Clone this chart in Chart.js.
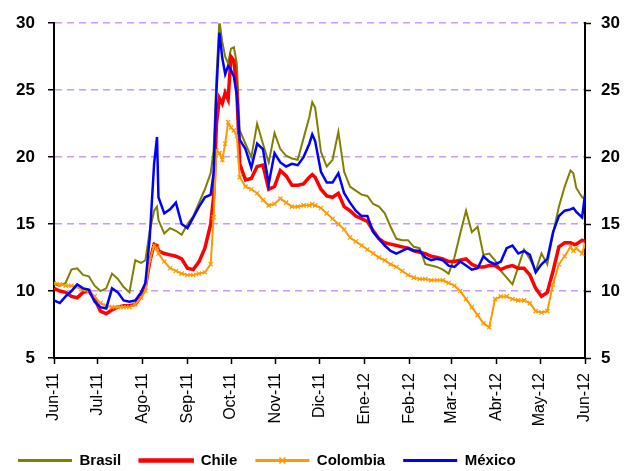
<!DOCTYPE html>
<html>
<head>
<meta charset="utf-8">
<script src="https://cdn.jsdelivr.net/npm/chart.js@4.4.1/dist/chart.umd.min.js"></script>
<style>
  body { margin: 0; background: #fff; }
  #wrap { width: 624px; height: 471px; }
</style>
</head>
<body>
<div id="wrap"><canvas id="chart" width="624" height="471"></canvas></div>
<script>
// days counted from 1-Jun-2011
var days = [0,4,8,12,16,20,24,28,32,36,40,44,48,52,56,60,63,66,69,71,72,76,80,84,88,92,96,100,104,108,
  110,112,114,116,118,120,122,124,126,128,132,136,140,144,148,152,156,160,164,168,172,176,178,180,
  184,188,192,196,200,204,208,212,216,220,224,228,232,236,240,244,248,252,256,260,264,268,272,276,
  280,284,288,292,296,300,304,308,312,316,320,324,328,332,336,340,344,348,352,356,358,360,364,366];

var brasil = [10.5,10.4,10.6,11.6,11.7,11.2,11.1,10.4,10.0,10.2,11.3,10.9,10.3,9.9,12.3,12.1,12.3,14.5,16.0,16.3,15.3,14.3,14.7,14.5,14.2,15.0,15.6,16.6,17.6,18.8,
  20.5,26.0,30.2,28.6,27.5,27.0,28.1,28.2,27.0,22.0,21.0,20.0,22.5,21.0,19.6,21.8,20.6,20.1,19.9,19.8,21.4,23.0,24.1,23.7,
  20.4,19.3,19.8,21.9,18.9,17.8,17.5,17.2,17.1,16.5,16.3,15.8,14.8,13.9,13.8,13.8,13.3,13.2,12.0,11.9,11.8,11.6,11.3,12.5,
  14.3,16.0,14.4,14.8,12.7,12.8,12.3,11.5,11.0,10.5,11.8,13.1,12.4,11.5,12.8,12.0,14.3,16.3,17.8,19.0,18.8,17.7,17.0,16.9];

var chile = [10.2,10.0,9.9,9.6,9.5,9.9,10.0,9.4,8.5,8.3,8.6,8.8,8.9,8.9,9.0,9.6,10.3,12.2,13.5,13.4,13.0,12.8,12.7,12.6,12.4,11.7,11.6,12.2,13.2,15.0,
  17.0,22.5,24.4,24.0,24.8,24.3,27.5,27.2,25.0,19.5,18.3,18.4,19.3,19.4,17.6,17.8,19.0,18.6,17.9,17.9,18.0,18.5,18.7,18.5,
  17.6,17.1,17.0,17.3,16.3,16.0,15.6,15.4,15.2,14.5,13.9,13.6,13.5,13.4,13.3,13.2,13.0,12.9,12.8,12.6,12.5,12.4,12.2,12.2,
  12.3,12.4,12.0,11.8,11.8,11.9,11.9,11.6,11.8,11.9,11.7,11.7,11.2,10.2,9.6,9.9,11.5,13.3,13.6,13.6,13.5,13.5,13.8,13.7];

var colombia = [10.6,10.5,10.4,10.4,10.3,10.1,10.0,9.6,9.1,8.9,8.8,8.8,8.8,8.8,9.0,9.5,10.0,12.3,13.4,13.2,12.8,12.2,11.7,11.5,11.3,11.2,11.2,11.3,11.4,12.0,
  15.5,20.5,20.3,19.8,21.0,22.6,22.2,22.0,21.6,18.5,17.8,17.6,17.3,16.8,16.4,16.5,16.9,16.6,16.3,16.3,16.4,16.4,16.5,16.4,
  16.2,15.8,15.4,15.0,14.6,14.0,13.7,13.4,13.1,12.8,12.5,12.3,12.0,11.8,11.5,11.2,11.0,10.9,10.9,10.8,10.8,10.8,10.6,10.4,
  10.0,9.4,8.8,8.2,7.6,7.3,9.4,9.6,9.6,9.4,9.3,9.3,9.1,8.5,8.4,8.5,10.5,12.0,12.6,13.3,13.0,13.2,12.8,13.5];

var mexico = [9.3,9.1,9.6,10.0,10.5,10.2,10.1,9.2,8.8,8.7,10.2,9.9,9.3,9.2,9.3,9.9,10.6,14.0,19.5,21.5,17.0,15.8,16.1,16.6,15.0,14.7,15.5,16.3,17.0,17.2,
  18.8,25.0,29.3,27.4,26.2,26.8,26.5,26.0,24.6,21.3,20.6,19.2,21.0,20.6,18.0,20.3,19.6,19.3,19.5,19.4,20.0,21.0,21.7,21.2,
  18.9,18.1,18.1,18.8,17.3,16.6,16.0,15.6,15.6,14.4,13.9,13.4,13.0,12.8,13.0,13.2,13.0,13.0,12.5,12.3,12.4,12.3,11.9,11.8,
  12.2,11.9,11.6,11.7,12.6,12.2,12.0,12.2,13.2,13.4,12.8,13.0,12.7,11.4,12.0,12.4,14.4,15.6,16.0,16.1,16.2,15.9,15.5,17.2];

var monthDays = [0,30,61,92,122,153,183,214,245,274,305,335,366];
var monthLabels = ["Jun-11","Jul-11","Ago-11","Sep-11","Oct-11","Nov-11","Dic-11","Ene-12","Feb-12","Mar-12","Abr-12","May-12","Jun-12"];
var yTicks = [5,10,15,20,25,30];

function toPoints(values) {
  return days.map(function (d, i) { return { x: d, y: values[i] }; });
}

var fontFamily = "'Liberation Sans', Arial, sans-serif";

// little x mark on the Colombia legend line
var legendMarker = {
  id: 'legendMarker',
  afterDraw: function (chart) {
    var boxes = chart.legend && chart.legend.legendHitBoxes;
    if (!boxes || !boxes[2]) return;
    var b = boxes[2];
    var cx = b.left + 27, cy = b.top + b.height / 2;
    var ctx = chart.ctx;
    ctx.save();
    ctx.strokeStyle = '#FF9900';
    ctx.lineWidth = 1.5;
    ctx.beginPath();
    ctx.moveTo(cx - 3, cy - 3); ctx.lineTo(cx + 3, cy + 3);
    ctx.moveTo(cx + 3, cy - 3); ctx.lineTo(cx - 3, cy + 3);
    ctx.stroke();
    ctx.restore();
  }
};

var ctx = document.getElementById('chart');

new Chart(ctx, {
  type: 'line',
  data: {
    datasets: [
      { label: 'Brasil', data: toPoints(brasil), borderColor: '#808000', backgroundColor: '#808000',
        borderWidth: 2, pointRadius: 0, order: 4 },
      { label: 'Chile', data: toPoints(chile), borderColor: '#FF0000', backgroundColor: '#FF0000',
        borderWidth: 3.5, pointRadius: 0, order: 3 },
      { label: 'Colombia', data: toPoints(colombia), borderColor: '#FF9900', backgroundColor: '#FF9900',
        borderWidth: 2, pointRadius: 3, pointStyle: 'crossRot', pointBorderColor: '#FF9900',
        pointBorderWidth: 1.2, order: 2 },
      { label: 'México', data: toPoints(mexico), borderColor: '#0000FF', backgroundColor: '#0000FF',
        borderWidth: 2.5, pointRadius: 0, order: 1 }
    ]
  },
  options: {
    responsive: false,
    animation: false,
    layout: { padding: { top: 21, left: 0, right: 0, bottom: 0 } },
    plugins: {
      tooltip: { enabled: false },
      legend: {
        position: 'bottom',
        align: 'start',
        maxHeight: 36,
        labels: {
          boxWidth: 54,
          boxHeight: 3,
          padding: 18,
          color: '#000',
          font: { family: fontFamily, size: 15, weight: 'bold' },
          generateLabels: function (chart) {
            var items = Chart.defaults.plugins.legend.labels.generateLabels(chart);
            items.forEach(function (it) {
              it.lineWidth = it.text === 'Chile' ? 1.5 : 0;
            });
            return items.sort(function (a, b) { return a.datasetIndex - b.datasetIndex; });
          }
        }
      }
    },
    scales: {
      x: {
        type: 'linear',
        min: 0,
        max: 366,
        afterBuildTicks: function (scale) {
          scale.ticks = monthDays.map(function (v) { return { value: v }; });
        },
        afterFit: function (scale) { scale.height = 77; },
        ticks: {
          autoSkip: false,
          maxRotation: 90,
          minRotation: 90,
          padding: 9,
          color: '#000',
          font: { family: fontFamily, size: 16 },
          callback: function (v) { return monthLabels[monthDays.indexOf(v)]; }
        },
        grid: { drawOnChartArea: false, tickLength: 6, tickColor: '#000', tickWidth: 1.5 },
        border: { color: '#000', width: 2 }
      },
      y: {
        position: 'left',
        min: 5,
        max: 30,
        afterBuildTicks: function (scale) {
          scale.ticks = yTicks.map(function (v) { return { value: v }; });
        },
        afterFit: function (scale) { scale.width = 54; },
        ticks: {
          padding: 13,
          color: '#000',
          font: { family: fontFamily, size: 17, weight: 'bold' }
        },
        grid: { color: '#C79BF2', lineWidth: 1.5, tickLength: 6, tickColor: '#000', tickWidth: 1.5 },
        border: { color: '#000', width: 2, dash: [7, 5] }
      },
      y2: {
        position: 'right',
        min: 5,
        max: 30,
        afterBuildTicks: function (scale) {
          scale.ticks = yTicks.map(function (v) { return { value: v }; });
        },
        afterFit: function (scale) { scale.width = 39; },
        ticks: {
          padding: 10,
          color: '#000',
          font: { family: fontFamily, size: 17, weight: 'bold' }
        },
        grid: { drawOnChartArea: false, tickLength: 6, tickColor: '#000', tickWidth: 1.5 },
        border: { color: '#000', width: 2 }
      }
    }
  },
  plugins: [legendMarker]
});
</script>
</body>
</html>
